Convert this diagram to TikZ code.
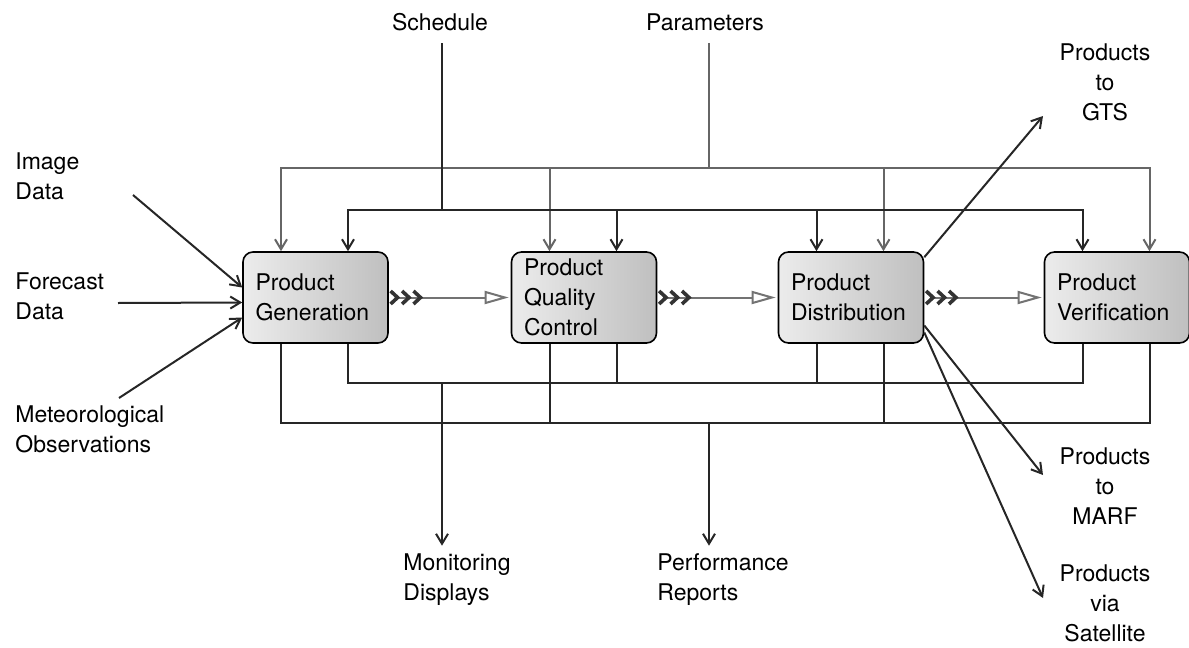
\documentclass[tikz,border=0pt]{standalone}
\usepackage{fontspec}
\setmainfont{TeX Gyre Heros}
\usetikzlibrary{arrows.meta,positioning}

\begin{document}
\begin{tikzpicture}[x=0.5pt,y=-0.5pt]
	\tikzset{stage/.style = {shape=rectangle, draw, rounded corners=5pt, line width=0.8pt,
			left color=gray!15, right color=gray!50, minimum width=72.5pt, minimum height=45.5pt,
			text width=60pt, inner xsep=6pt, inner ysep=1pt, align=left,
			font=\fontsize{11.5}{15}\selectfont}}
	\tikzset{txt/.style = {inner sep=1pt, align=left, font=\fontsize{11.5}{15}\selectfont}}
	\tikzset{bus/.style = {draw=black!85, line width=1pt}}
	\tikzset{outer/.style = {draw=black!60}}
	\tikzset{drop/.style = {bus, -{Straight Barb[length=5pt,width=6pt]}}}
	\tikzset{feed/.style = {draw=black!85, line width=1pt, -{Straight Barb[length=5pt,width=6pt]}}}
	\tikzset{flow/.style = {draw=black!55, line width=1pt, shorten >=1pt,
			{Straight Barb[reversed,length=3.5pt,width=6.5pt,line width=1.8pt,color=black!80]
			 Straight Barb[reversed,length=3.5pt,width=6.5pt,line width=1.8pt,color=black!80]
			 Straight Barb[reversed,length=3.5pt,width=6.5pt,line width=1.8pt,color=black!80]}-{Triangle[open,length=12pt,width=6.5pt,fill=white]}}}

	\useasboundingbox (0,0) rectangle (1189,648);

	\node[stage] (pg) at (315.5,297.5) {Product\\Generation};
	\node[stage] (pqc) at (584,297.5) {Product\\Quality\\Control};
	\node[stage] (pd) at (851,297.5) {Product\\Distribution};
	\node[stage] (pv) at (1117,297.5) {Product\\Verification};

	\node[txt] (sched) at (440,22) {Schedule};
	\node[txt] (param) at (705,22) {Parameters};
	\node[txt, anchor=west] (img) at (13,176) {Image\\Data};
	\node[txt, anchor=west] (fcst) at (13,296) {Forecast\\Data};
	\node[txt, anchor=west] (met) at (13,429) {Meteorological\\Observations};
	\node[txt, align=center] (gts) at (1105,82) {Products\\to\\GTS};
	\node[txt, align=center] (marf) at (1105,486) {Products\\to\\MARF};
	\node[txt, align=center] (sat) at (1105,603) {Products\\via\\Satellite};
	\node[txt, anchor=west] (mon) at (401,580) {Monitoring\\Displays};
	\node[txt, anchor=west] (perf) at (655,580) {Performance\\Reports};

	\coordinate (obus) at (709,168);
	\coordinate (ibus) at (442,210);
	\coordinate (ubus) at (442,383);
	\coordinate (lbus) at (709,423);

	\coordinate (imgtail) at (133,195);
	\coordinate (fcsttail) at (118,303);
	\coordinate (mettail) at (119,398);
	\coordinate (gtstip) at (1043,116);
	\coordinate (marftip) at (1043,475);
	\coordinate (sattip) at (1043,598);

	\draw[bus, outer, shorten <=5pt] (param.south -| obus) -- (obus);
	\draw[drop, outer] (obus) -| ([xshift=-17.25pt]pg.north);
	\draw[drop, outer] (obus) -| ([xshift=-17.25pt]pqc.north);
	\draw[drop, outer] (obus) -| ([xshift=16.25pt]pd.north);
	\draw[drop, outer] (obus) -| ([xshift=16.25pt]pv.north);

	\draw[bus, shorten <=5pt] (sched.south -| ibus) -- (ibus);
	\draw[drop] (ibus) -| ([xshift=16.25pt]pg.north);
	\draw[drop] (ibus) -| ([xshift=16.25pt]pqc.north);
	\draw[drop] (ibus) -| ([xshift=-17.25pt]pd.north);
	\draw[drop] (ibus) -| ([xshift=-17.25pt]pv.north);

	\draw[bus] ([xshift=16.25pt]pg.south) |- (ubus);
	\draw[bus] ([xshift=16.25pt]pqc.south) |- (ubus);
	\draw[bus] ([xshift=-17.25pt]pd.south) |- (ubus);
	\draw[bus] ([xshift=-17.25pt]pv.south) |- (ubus);
	\draw[drop, shorten >=3pt] (ubus) -- (ubus |- mon.north);

	\draw[bus] ([xshift=-17.25pt]pg.south) |- (lbus);
	\draw[bus] ([xshift=-17.25pt]pqc.south) |- (lbus);
	\draw[bus] ([xshift=16.25pt]pd.south) |- (lbus);
	\draw[bus] ([xshift=16.25pt]pv.south) |- (lbus);
	\draw[drop, shorten >=3pt] (lbus) -- (lbus |- perf.north);

	\draw[flow] (pg) -- (pqc);
	\draw[flow] (pqc) -- (pd);
	\draw[flow] (pd) -- (pv);

	\draw[feed] (imgtail) -- ([yshift=5pt]pg.west);
	\draw[feed] (fcsttail) -- ([yshift=-2.5pt]pg.west);
	\draw[feed] (mettail) -- ([yshift=-10pt]pg.west);

	\draw[feed] ([yshift=-3pt]pd.north east) -- (gtstip);
	\draw[feed] ([yshift=-14pt]pd.east) -- (marftip);
	\draw[feed] ([yshift=-17.5pt]pd.east) -- (sattip);
\end{tikzpicture}
\end{document}
